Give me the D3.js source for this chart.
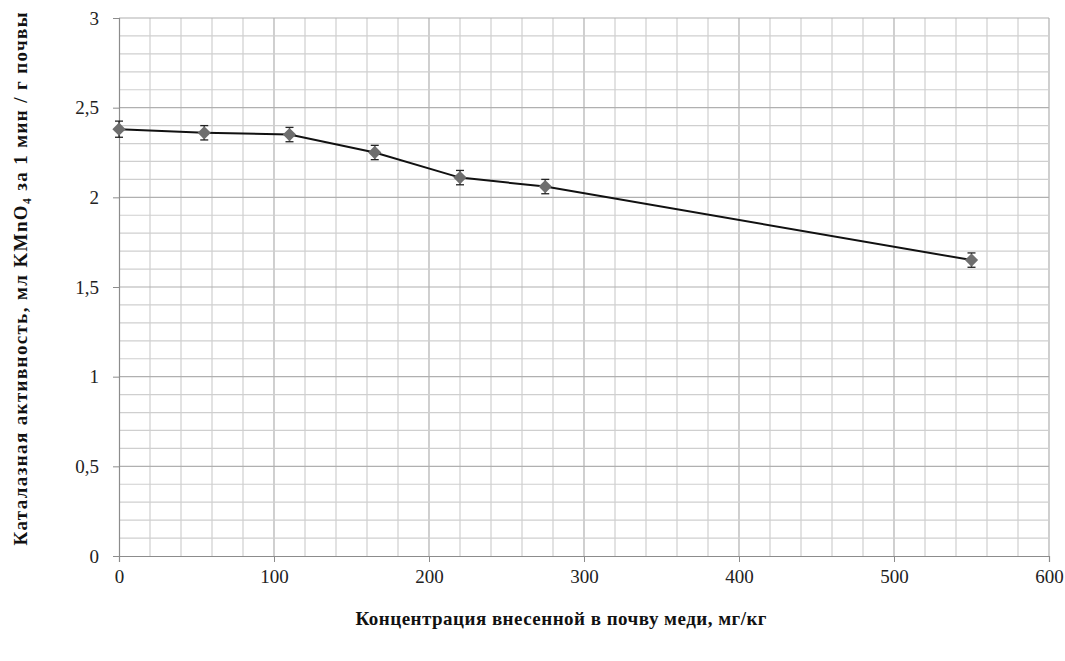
<!DOCTYPE html>
<html>
<head>
<meta charset="utf-8">
<script src="https://cdn.jsdelivr.net/npm/d3@7"></script>
<style>
  body { margin: 0; background: #fff; }
  svg text { font-family: "Liberation Serif", Tinos, "Times New Roman", serif; }
</style>
</head>
<body>
<svg id="chart" width="1065" height="661"></svg>
<script>
// Data
var doses = [0, 55, 110, 165, 220, 275, 550];
var activity = [2.38, 2.36, 2.35, 2.25, 2.11, 2.06, 1.65];
var errors = [0.045, 0.04, 0.04, 0.04, 0.04, 0.04, 0.04];
var xTicks = [0, 100, 200, 300, 400, 500, 600];
var yTicks = [0, 0.5, 1, 1.5, 2, 2.5, 3];

var svg = d3.select('#chart'),
    pLeft = 119, pRight = 1049, pTop = 18, pBottom = 556;

var x = d3.scaleLinear().domain([0, 600]).range([pLeft, pRight]);
var y = d3.scaleLinear().domain([0, 3]).range([pBottom, pTop]);

// grid, minor every 20 / 0.1
var grid = svg.append('g');
grid.selectAll('.vx').data(d3.range(20, 601, 20)).enter().append('line')
    .attr('x1', function(d) { return x(d); }).attr('x2', function(d) { return x(d); })
    .attr('y1', pTop).attr('y2', pBottom)
    .attr('stroke', function(d) { return d % 100 === 0 ? '#b0b0b0' : '#cfcfcf'; })
    .attr('stroke-width', 1.2);
grid.selectAll('.hy').data(d3.range(1, 31)).enter().append('line')
    .attr('x1', pLeft).attr('x2', pRight)
    .attr('y1', function(d) { return y(d / 10); }).attr('y2', function(d) { return y(d / 10); })
    .attr('stroke', function(d) { return d % 5 === 0 ? '#b0b0b0' : '#cfcfcf'; })
    .attr('stroke-width', 1.2);

// axes
var xAxis = svg.append('g').attr('transform', 'translate(0,' + pBottom + ')')
    .call(d3.axisBottom(x).tickValues(xTicks).tickSize(6).tickPadding(8).tickFormat(d3.format('d')));
var yAxis = svg.append('g').attr('transform', 'translate(' + pLeft + ',0)')
    .call(d3.axisLeft(y).tickValues(yTicks).tickSize(6).tickPadding(8)
      .tickFormat(function(d) { return String(d).replace('.', ','); }));
[xAxis, yAxis].forEach(function(a) {
  a.attr('font-family', null);
  a.select('.domain').attr('stroke', '#8c8c8c').attr('stroke-width', 1.2);
  a.selectAll('.tick line').attr('stroke', '#8c8c8c');
  a.selectAll('text').attr('font-size', 19).attr('fill', '#222');
});
yAxis.selectAll('text').attr('dx', '-6');

// error bars
var eb = svg.append('g');
doses.forEach(function(d, i) {
  var cx = x(d), y1 = y(activity[i] + errors[i]), y2 = y(activity[i] - errors[i]);
  eb.append('line').attr('x1', cx).attr('x2', cx).attr('y1', y1).attr('y2', y2)
    .attr('stroke', '#222').attr('stroke-width', 1.3);
  [y1, y2].forEach(function(yy) {
    eb.append('line').attr('x1', cx - 4).attr('x2', cx + 4).attr('y1', yy).attr('y2', yy)
      .attr('stroke', '#222').attr('stroke-width', 1.3);
  });
});

// line
var line = d3.line().x(function(d, i) { return x(doses[i]); }).y(function(d) { return y(d); });
svg.append('path').datum(activity).attr('d', line)
    .attr('fill', 'none').attr('stroke', '#111').attr('stroke-width', 2);

// markers - rotated squares
svg.selectAll('.pt').data(activity).enter().append('path')
    .attr('d', d3.symbol().type(d3.symbolSquare).size(88))
    .attr('transform', function(d, i) { return 'translate(' + x(doses[i]) + ',' + y(d) + ') rotate(45)'; })
    .attr('fill', '#6e6e6e');

// titles
svg.append('text').attr('x', 561).attr('y', 625).attr('text-anchor', 'middle')
    .attr('font-size', 19).attr('font-weight', 'bold').attr('fill', '#111')
    .attr('textLength', 411).attr('lengthAdjust', 'spacing')
    .text('Концентрация внесенной в почву меди, мг/кг');
svg.append('text').attr('transform', 'translate(27,279) rotate(-90)').attr('text-anchor', 'middle')
    .attr('font-size', 19).attr('font-weight', 'bold').attr('fill', '#111')
    .attr('textLength', 533).attr('lengthAdjust', 'spacing')
    .text('Каталазная активность, мл KMnO₄ за 1 мин / г почвы');
</script>
</body>
</html>
